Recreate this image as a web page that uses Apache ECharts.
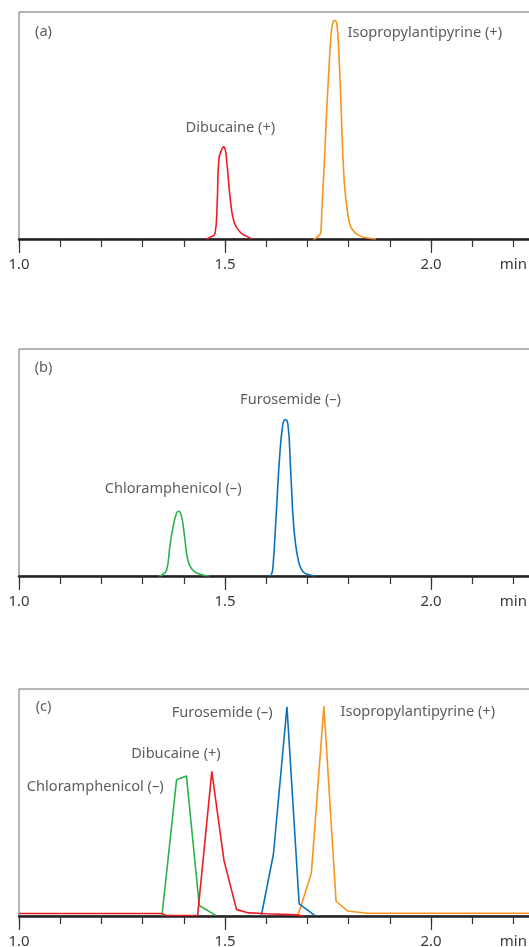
<!DOCTYPE html>
<html>
<head>
<meta charset="utf-8">
<script src="https://cdn.jsdelivr.net/npm/echarts@6/dist/echarts.min.js"></script>
<style>
  html, body { margin: 0; padding: 0; background: #fff; }
  #main { width: 529px; height: 947px; }
</style>
</head>
<body>
<div id="main"></div>
<script>
// retention time (min) and signal (% of panel height)

// (a) positive ions
var dibA_t = [1.455, 1.461, 1.476, 1.481, 1.485, 1.491, 1.497, 1.501, 1.504, 1.514, 1.523, 1.538, 1.558, 1.566];
var dibA_v = [0, 0.5, 2.5, 15.7, 34.8, 39, 40.6, 39, 34.8, 15.7, 6.9, 2.8, 0.7, 0];
var isoA_t = [1.714, 1.720, 1.7325, 1.735, 1.741, 1.746, 1.752, 1.758, 1.763, 1.7675, 1.772, 1.776, 1.781, 1.785, 1.790, 1.797, 1.806, 1.826, 1.858, 1.867];
var isoA_v = [0, 0.3, 2.9, 12.5, 33, 53.6, 74, 91, 95.9, 96.2, 94, 83, 62, 41.6, 24, 12.5, 5.1, 1.5, 0.15, 0];

// (b) negative ions
var chlB_t = [1.340, 1.3456, 1.358, 1.366, 1.374, 1.382, 1.387, 1.394, 1.402, 1.410, 1.422, 1.442, 1.462];
var chlB_v = [0, 0.3, 2.5, 12.8, 21.6, 27.5, 28.5, 26.7, 17.2, 6.9, 2.5, 0.7, 0];
var furB_t = [1.608, 1.612, 1.616, 1.624, 1.632, 1.640, 1.6464, 1.653, 1.659, 1.667, 1.678, 1.690, 1.710, 1.718];
var furB_v = [0, 0.3, 3.2, 26, 51, 66.4, 68.9, 66.4, 48, 21.6, 6.9, 1.8, 0.3, 0];

// (c) polarity switching
var chlC_t = [1.347, 1.3824, 1.4064, 1.4376, 1.4776];
var chlC_v = [0, 60, 61.7, 4.6, 0.3];
var dibC_t = [1.0, 1.345, 1.358, 1.4336, 1.468, 1.4976, 1.528, 1.5536, 1.6, 1.675, 1.69];
var dibC_v = [1.1, 1.1, 0.2, 0.3, 63.7, 24.4, 2.8, 1.5, 1, 0.5, 0];
var furC_t = [1.588, 1.6176, 1.6504, 1.680, 1.7176];
var furC_v = [0, 27.3, 92.2, 5.3, 0.3];
var isoC_t = [1.6776, 1.7096, 1.740, 1.7696, 1.7976, 1.845, 2.5];
var isoC_v = [0.6, 18.8, 92.5, 6.5, 2.2, 1.2, 1.2];

// peak labels: text, time, height
var labelsA = [['(a)', 1.0595, 91.2], ['Dibucaine (+)', 1.513, 48.9], ['Isopropylantipyrine (+)', 1.985, 90.7]];
var labelsB = [['(b)', 1.0595, 91.8], ['Furosemide (\u2013)', 1.659, 77.5], ['Chloramphenicol (\u2013)', 1.374, 38.3]];
var labelsC = [['(c)', 1.0595, 92.2], ['Furosemide (\u2013)', 1.493, 89.6], ['Isopropylantipyrine (+)', 1.968, 89.9],
               ['Dibucaine (+)', 1.381, 71.4], ['Chloramphenicol (\u2013)', 1.185, 56.8]];

var tickLabels = ['1.0', '1.5', '2.0'];

var RED = '#ee1d23', ORANGE = '#f7941d', GREEN = '#2bb24c', BLUE = '#0a72bd';

function zip(t, v) {
  var out = [];
  for (var i = 0; i < t.length; i++) out.push([t[i], v[i]]);
  return out;
}

var chart = echarts.init(document.getElementById('main'));

var tops = [12, 349, 689];
var grids = [], xAxes = [], yAxes = [], series = [];

tops.forEach(function (top, i) {
  grids.push({
    left: 19, top: top, width: 618, height: 227,
    outerBoundsMode: 'none', containLabel: false,
    show: true, borderColor: '#6d6d6d', borderWidth: 1
  });
  // minor ticks every 0.1, labels 1.0 / 1.5 / 2.0 and the unit
  xAxes.push({
    type: 'value', gridIndex: i, position: 'bottom', min: 1.0, max: 2.5, interval: 0.1,
    axisLine: { lineStyle: { color: '#231f20', width: 2.5 } },
    axisTick: { length: 8, lineStyle: { color: '#333', width: 1.2 } },
    splitLine: { show: false },
    axisLabel: {
      margin: 18, fontSize: 15, color: '#3a3a3a', fontFamily: 'Noto Sans',
      formatter: function (val) {
        var s = val.toFixed(1);
        if (s === '2.2') return 'min';
        return tickLabels.indexOf(s) >= 0 ? s : '';
      }
    }
  });
  // longer major ticks every 0.5
  xAxes.push({
    type: 'value', gridIndex: i, position: 'bottom', min: 1.0, max: 2.5, interval: 0.5,
    axisLine: { show: false },
    axisTick: { length: 14, lineStyle: { color: '#333', width: 1.2 } },
    axisLabel: { show: false },
    splitLine: { show: false }
  });
  yAxes.push({ type: 'value', gridIndex: i, min: 0, max: 100, show: false });
});

function peak(panel, t, v, color, smooth) {
  series.push({
    type: 'line', xAxisIndex: panel * 2, yAxisIndex: panel,
    data: zip(t, v), showSymbol: false, symbol: 'none',
    smooth: smooth ? 0.45 : false,
    lineStyle: { color: color, width: 1.6 },
    z: 3, animation: false
  });
}

function labels(panel, list) {
  series.push({
    type: 'scatter', xAxisIndex: panel * 2, yAxisIndex: panel,
    symbolSize: 0, silent: true, animation: false,
    data: list.map(function (l) { return { name: l[0], value: [l[1], l[2]] }; }),
    label: {
      show: true, position: 'inside', formatter: '{b}',
      fontSize: 14.6, color: '#333', fontFamily: 'Noto Sans'
    }
  });
}

peak(0, dibA_t, dibA_v, RED, true);
peak(0, isoA_t, isoA_v, ORANGE, true);
labels(0, labelsA);

peak(1, chlB_t, chlB_v, GREEN, true);
peak(1, furB_t, furB_v, BLUE, true);
labels(1, labelsB);

peak(2, isoC_t, isoC_v, ORANGE, false);
peak(2, furC_t, furC_v, BLUE, false);
peak(2, chlC_t, chlC_v, GREEN, false);
peak(2, dibC_t, dibC_v, RED, false);
labels(2, labelsC);

chart.setOption({
  animation: false,
  grid: grids,
  xAxis: xAxes,
  yAxis: yAxes,
  series: series
});
</script>
</body>
</html>
